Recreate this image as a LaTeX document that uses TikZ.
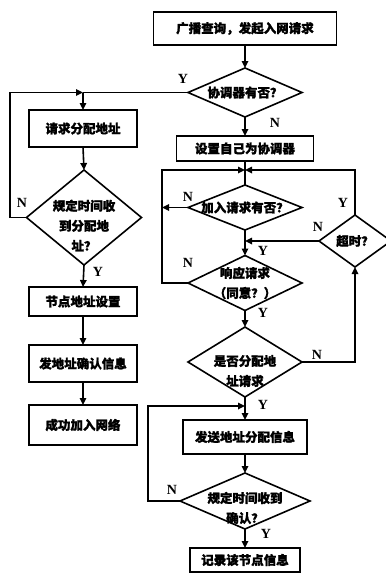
\documentclass[tikz,border=0pt]{standalone}
\usepackage{fontspec}
\newfontfamily\cjk{Noto Sans CJK SC}[FakeBold=1.5]
\newfontfamily\lat{Liberation Serif}
\usetikzlibrary{arrows.meta,shapes.geometric}
\tikzset{
  ln/.style={line width=1.6pt},
  arr/.style={ln,-{Triangle[length=7pt,width=6.5pt]}},
  box/.style={draw,ln,rectangle,inner sep=0pt,outer sep=0pt,font=\cjk\bfseries\fontsize{12.5}{20}\selectfont},
  dia/.style={draw,ln,diamond,inner sep=0pt,outer sep=0pt,aspect=1},
  txt/.style={align=center,inner sep=0pt,font=\cjk\bfseries\fontsize{12.5}{20}\selectfont},
  lab/.style={inner sep=0pt,font=\lat\bfseries\fontsize{14}{14}\selectfont}
}
\begin{document}
\begin{tikzpicture}[x=1pt,y=-1pt]
\useasboundingbox (0,0) rectangle (386,574);
% right column
\node[box,minimum width=183pt,minimum height=33pt] (b1) at (245,28.5) {广播查询，发起入网请求};
\node[dia,minimum width=114pt,minimum height=49pt] (d1) at (245,92.5) {};
\node[txt] (t1) at (245,92.5) {协调器有否？};
\node[box,minimum width=137pt,minimum height=25pt] (b2) at (245,148.5) {设置自己为协调器};
\node[dia,minimum width=114pt,minimum height=45pt] (d2) at (245,207.5) {};
\node[txt] (t2) at (245,207.5) {加入请求有否？};
\node[dia,minimum width=72pt,minimum height=52pt] (d3) at (355,241) {};
\node[txt] (t3) at (355,241) {超时？};
\node[dia,minimum width=114pt,minimum height=55pt] (d4) at (245,283) {};
\node[txt] (t4) at (245,283) {响应请求\\（同意？）};
\node[dia,minimum width=114pt,minimum height=70pt] (d5) at (245,362) {};
\node[txt] (t5) at (245,371) {是否分配地\\址请求};
\node[box,minimum width=124pt,minimum height=34pt] (b3) at (245,437) {发送地址分配信息};
\node[dia,minimum width=130pt,minimum height=56pt] (d6) at (245,501) {};
\node[txt] (t6) at (245,508) {规定时间收到\\确认？};
\node[box,minimum width=110pt,minimum height=24pt] (b4) at (245,560) {记录该节点信息};
% left column
\node[box,minimum width=108pt,minimum height=37pt] (l1) at (83,128.5) {请求分配地址};
\node[dia,minimum width=115pt,minimum height=95pt] (dl) at (84,217.5) {};
\node[txt] (tl) at (84,225.5) {规定时间收\\到分配地\\址？};
\node[box,minimum width=108pt,minimum height=29pt] (l2) at (83,301.5) {节点地址设置};
\node[box,minimum width=108pt,minimum height=37pt] (l3) at (83,363.5) {发地址确认信息};
\node[box,minimum width=108pt,minimum height=40pt] (l4) at (83,425) {成功加入网络};
% coordinates
\coordinate (jL) at (83,92.5);
\coordinate (m) at (245,170);
\coordinate (jB) at (245,406);
% connectors right
\draw[arr] (b1.south) -- (d1.north);
\draw[arr] (d1.south) -- (b2.north);
\draw[ln] (b2.south) -- (d2.north);
\draw[arr] (d2.west) -- (162,207.5);
\draw[arr] (d4.west) -- (162,283) -- (162,170) -- (m);
\draw[arr] (d3.north) |- (m);
\draw[arr] (d3.west) -- (d3.west -| d2.south);
\draw[arr] (d2.south) -- (d4.north);
\draw[arr] (d4.south) -- (d5.north);
\draw[arr] (d5.east) -| (d3.south);
\draw[arr] (d5.south) -- (b3.north);
\draw[arr] (b3.south) -- (d6.north);
\draw[arr] (d6.west) -- (148,501) |- (jB);
\draw[arr] (d6.south) -- (b4.north);
% connectors left
\draw[ln] (d1.west) -- (jL);
\draw[arr] (jL) -- (l1.north);
\draw[arr] (l1.south) -- (dl.north);
\draw[arr] (dl.west) -- (10,217.5) |- (jL);
\draw[arr] (dl.south) -- (l2.north);
\draw[arr] (l2.south) -- (l3.north);
\draw[arr] (l3.south) -- (l4.north);
% labels
\node[lab] (y1) at (183,79) {Y};
\node[lab] (n1) at (275,123) {N};
\node[lab] (n2) at (188,197) {N};
\node[lab] (y2) at (263,251) {Y};
\node[lab] (y3) at (343,203) {Y};
\node[lab] (n3) at (318,227) {N};
\node[lab] (n4) at (188,263) {N};
\node[lab] (y4) at (263,313) {Y};
\node[lab] (n5) at (317,355) {N};
\node[lab] (y5) at (263,405) {Y};
\node[lab] (n6) at (172,490) {N};
\node[lab] (y6) at (266,534) {Y};
\node[lab] (nl) at (22,203) {N};
\node[lab] (yl) at (98,272) {Y};
\end{tikzpicture}
\end{document}
